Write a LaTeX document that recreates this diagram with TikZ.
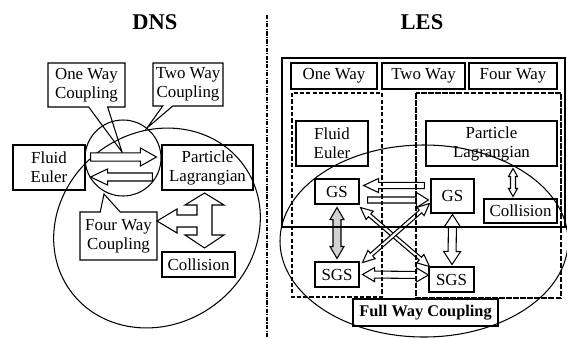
\documentclass[tikz,border=0pt]{standalone}
\usepackage{fontspec}
\setmainfont{Liberation Serif}
\usetikzlibrary{calc,shapes.callouts}
\definecolor{shade}{HTML}{D2D2D2}
\def\pxl{0.025cm}
\tikzset{
  box/.style={draw, line width=0.75pt, inner sep=1pt, align=center, font=\fontsize{12}{13.5}\selectfont},
  callbox/.style={box, rectangle callout},
  title/.style={font=\fontsize{16}{18}\selectfont\bfseries},
  frame/.style={draw, line width=0.75pt},
  region/.style={draw, line width=0.75pt, dash pattern=on 3pt off 1.5pt},
  blockarrow/.style={draw, fill=white, line width=0.75pt, line join=miter},
  sep/.style={draw, line width=0.75pt, dash pattern=on 3pt off 1pt on 0.8pt off 1pt},
}
\newcommand{\fatarrow}[6][]{%
  \coordinate (fa-a) at (#2);
  \coordinate (fa-b) at (#3);
  \coordinate (fa-h) at ($(fa-b)!#6*\pxl!(fa-a)$);
  \draw[blockarrow,#1] ($(fa-a)!#4*\pxl!90:(fa-b)$) -- ($(fa-h)!#4*\pxl!90:(fa-b)$)
    -- ($(fa-h)!#5*\pxl!90:(fa-b)$) -- (fa-b) -- ($(fa-h)!#5*\pxl!-90:(fa-b)$)
    -- ($(fa-h)!#4*\pxl!-90:(fa-b)$) -- ($(fa-a)!#4*\pxl!-90:(fa-b)$) -- cycle;
}
\newcommand{\fatdouble}[6][]{%
  \coordinate (fa-a) at (#2);
  \coordinate (fa-b) at (#3);
  \coordinate (fa-g) at ($(fa-a)!#6*\pxl!(fa-b)$);
  \coordinate (fa-h) at ($(fa-b)!#6*\pxl!(fa-a)$);
  \draw[blockarrow,#1] (fa-a) -- ($(fa-g)!#5*\pxl!90:(fa-b)$) -- ($(fa-g)!#4*\pxl!90:(fa-b)$)
    -- ($(fa-h)!#4*\pxl!90:(fa-b)$) -- ($(fa-h)!#5*\pxl!90:(fa-b)$) -- (fa-b)
    -- ($(fa-h)!#5*\pxl!-90:(fa-b)$) -- ($(fa-h)!#4*\pxl!-90:(fa-b)$)
    -- ($(fa-g)!#4*\pxl!-90:(fa-b)$) -- ($(fa-g)!#5*\pxl!-90:(fa-b)$) -- cycle;
}

\begin{document}
\begin{tikzpicture}[x=\pxl, y=-\pxl]

  \useasboundingbox (0,0) rectangle (567,338);

  \node[title] (dnsT) at (155,22) {DNS};
  \node[title] (lesT) at (422,22) {LES};

  \draw[sep] (267,15) -- (267,338);

  \node[callbox, minimum width=1.925cm, minimum height=1.1cm,
    callout absolute pointer={(122,152)}, callout pointer width=0.475cm] (oneD) at (86.5,85) {One Way\\Coupling};
  \node[callbox, minimum width=1.75cm, minimum height=1.075cm,
    callout absolute pointer={(147,128)}, callout pointer width=0.25cm] (twoD) at (188,84.5) {Two Way\\Coupling};
  \node[callbox, minimum width=1.925cm, minimum height=1.2cm,
    callout absolute pointer={(104,194)}, callout pointer width=0.5cm] (fourD) at (118.5,236) {Four Way\\Coupling};
  \node[box, minimum width=1.8cm, minimum height=1.125cm] (fluidD) at (49,167.5) {Fluid\\Euler};
  \node[box, minimum width=2.275cm, minimum height=1.125cm] (partD) at (207.5,167.5) {Particle\\Lagrangian};
  \node[box, minimum width=1.825cm, minimum height=0.625cm] (collD) at (198.5,264.5) {Collision};

  \draw[frame] (123,158) circle [radius=38];
  \draw[frame, rotate around={36:(157,228)}] (157,228) ellipse [x radius=107, y radius=96];

  \fatarrow{$(fluidD.east)+(5,-10.5)$}{$(partD.west)+(-5,-10.5)$}{4.2}{9}{16}
  \fatarrow{$(partD.west)+(-9,9.5)$}{$(fluidD.east)+(5,9.5)$}{4}{8}{17}

  \draw[blockarrow] (204.5,193) -- (224,205) -- (212,205) -- (212,235) -- (224,235) -- (204.5,248)
    -- (185,235) -- (197,235) -- (197,227) -- (177,227) -- (177,233) -- (157,221) -- (177,209)
    -- (177,215) -- (197,215) -- (197,205) -- (185,205) -- cycle;

  \node[box, minimum width=2.15cm, minimum height=0.65cm] (oneL) at (334,76) {One Way};
  \node[box, minimum width=2.075cm, minimum height=0.65cm] (twoL) at (423.5,76) {Two Way};
  \node[box, minimum width=2.2cm, minimum height=0.65cm] (fourL) at (513,76) {Four Way};
  \node[box, minimum width=1.8cm, minimum height=1.125cm] (fluidL) at (332,143.5) {Fluid\\Euler};
  \node[box, minimum width=3.275cm, minimum height=1.125cm] (partL) at (491.5,143.5) {Particle\\Lagrangian};
  \node[box, minimum width=1.1cm, minimum height=0.625cm] (gsL) at (337,191.5) {GS};
  \node[box, minimum width=1.075cm, minimum height=0.85cm] (gsR) at (452.5,196) {GS};
  \node[box, minimum width=1.825cm, minimum height=0.6cm] (collL) at (520.5,211) {Collision};
  \node[box, minimum width=1.1cm, minimum height=0.625cm] (sgsL) at (337,274.5) {SGS};
  \node[box, minimum width=1.125cm, minimum height=0.625cm] (sgsR) at (451.5,279.5) {SGS};
  \node[box, minimum width=3.625cm, minimum height=0.675cm, font=\fontsize{11.6}{13.5}\selectfont\bfseries] (fullL) at (425.5,312.5) {Full Way Coupling};

  \fatarrow{$(gsR.west)+(-6,-10.5)$}{$(gsL.east)+(4,-6)$}{3.2}{7}{15}
  \fatarrow{$(gsL.east)+(8,8.5)$}{$(gsR.west)+(-2,4)$}{3}{7.5}{12}
  \fatdouble[fill=shade]{$(gsL.south)+(0,3)$}{$(sgsL.north)+(0,-3)$}{4}{7}{12}
  \fatdouble{$(gsR.south)+(0,1)$}{$(sgsR.north)+(0.5,-2)$}{4}{8.5}{13}
  \fatdouble{$(sgsL.east)+(3,0)$}{$(sgsR.west)+(0,-4.5)$}{3.5}{7}{12}
  \fatdouble{$(partL.south)+(21.5,2)$}{$(collL.north)+(-7.5,-2)$}{2.5}{4.5}{8}
  \fatdouble{$(gsL.south east)+(1,3)$}{$(sgsR.north west)+(1,0)$}{1.8}{5.5}{12}
  \fatdouble{$(gsR.south west)+(-1,-10)$}{$(sgsL.north east)+(3,1)$}{1.8}{5.5}{12}

  \draw[frame] (282,58) rectangle (565,227);
  \draw[region] (292,93) rectangle (382,297);
  \draw[region, dash pattern=on 4pt off 1pt] (416,93) rectangle (561,298);
  \draw[frame] (424,241) ellipse [x radius=144, y radius=96];

\end{tikzpicture}
\end{document}
